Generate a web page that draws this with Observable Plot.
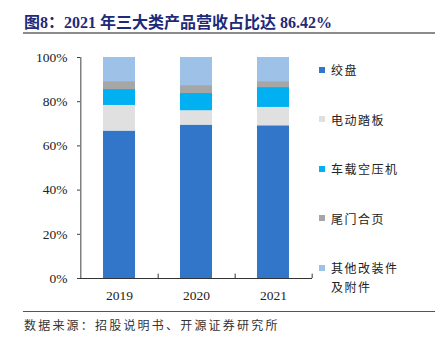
<!DOCTYPE html>
<html>
<head>
<meta charset="utf-8">
<script src="https://cdn.jsdelivr.net/npm/d3@7"></script>
<script src="https://cdn.jsdelivr.net/npm/@observablehq/plot@0.6"></script>
<style>
  html, body { margin: 0; padding: 0; background: #fff; }
  #wrap { position: relative; width: 435px; height: 339px; overflow: hidden; background: #fff; }
  #title { position: absolute; left: 24px; top: 11px; font-size: 16px; font-weight: bold; color: #1e2a78;
    font-family: "Liberation Serif", "Noto Sans CJK SC", serif; white-space: nowrap; line-height: 20px; }
  #title .cjk { font-family: "Noto Sans CJK SC", sans-serif; }
  #tline { position: absolute; left: 23px; right: 0; top: 32px; height: 2px; background: #8c8c8c; }
  #chart { position: absolute; left: 0; top: 40px; }
  #legend { position: absolute; left: 319px; top: 60px; display: flex; flex-direction: column; gap: 30.5px;
    font-family: "Noto Sans CJK SC", sans-serif; font-size: 12px; letter-spacing: 1.5px; color: #222; }
  .item { display: flex; align-items: flex-start; line-height: 19px; }
  .sw { width: 6px; height: 6px; margin-top: 6.5px; margin-right: 6px; flex: none; }
  .lab { width: 70px; }
  #bline { position: absolute; left: 23px; right: 0; top: 311px; height: 1px; background: #555; }
  #source { position: absolute; left: 24px; top: 316px; font-family: "Noto Sans CJK SC", sans-serif; font-size: 12px;
    letter-spacing: 2.2px; color: #333; line-height: 18px; white-space: nowrap; }
</style>
</head>
<body>
<div id="wrap">
  <div id="title"><span class="cjk">图</span>8<span class="cjk">：</span>2021 <span class="cjk">年三大类产品营收占比达</span> 86.42%</div>
  <div id="tline"></div>
  <div id="chart"></div>
  <div id="legend"></div>
  <div id="bline"></div>
  <div id="source">数据来源：招股说明书、开源证券研究所</div>
</div>
<script>
const years = ["2019", "2020", "2021"];
const categories = ["绞盘", "电动踏板", "车载空压机", "尾门合页", "其他改装件及附件"];
const winch = [66.7, 69.4, 69.1];
const sideStep = [11.6, 6.5, 8.3];
const compressor = [7.2, 7.8, 9.0];
const tailgate = [3.6, 3.6, 2.7];
const others = [10.9, 12.7, 10.9];
const colors = ["#3176c8", "#e0e0e0", "#00b0f0", "#a6a6a6", "#9dc1e7"];
const yTicks = [0, 20, 40, 60, 80, 100];

const series = [winch, sideStep, compressor, tailgate, others];
const rows = [];
categories.forEach((c, i) => years.forEach((y, j) => rows.push({year: y, cat: c, value: series[i][j]})));

const W = 435, H = 268, ml = 80, mr = 123, mt = 17, mb = 30;
const step = (W - ml - mr) / years.length;

const plot = Plot.plot({
  width: W, height: H,
  marginLeft: ml, marginRight: mr, marginTop: mt, marginBottom: mb,
  style: {fontFamily: "Liberation Serif, Times New Roman, serif", fontSize: "13.5px", color: "#222", background: "transparent", overflow: "visible"},
  x: {domain: years, paddingInner: 0.59, paddingOuter: 0.295, label: null},
  y: {domain: [0, 100], label: null},
  color: {domain: categories, range: colors},
  marks: [
    Plot.barY(rows, {x: "year", y: "value", fill: "cat", order: categories}),
    Plot.axisY({ticks: yTicks, tickFormat: d => d + "%", tickSize: 3, tickPadding: 10, label: null, stroke: "#404040"}),
    Plot.axisX({tickSize: 0, tickPadding: 12, label: null}),
    Plot.ruleY([0], {stroke: "#333", strokeWidth: 1.2}),
    Plot.ruleX([years[0]], {dx: -step / 2, y1: 0, y2: 100, stroke: "#404040"}),
    Plot.ruleX(years, {dx: step / 2, y1: 0, y2: 2, stroke: "#333"})
  ]
});
document.getElementById("chart").appendChild(plot);

const legend = document.getElementById("legend");
categories.forEach((c, i) => {
  const it = document.createElement("div");
  it.className = "item";
  const sw = document.createElement("span");
  sw.className = "sw";
  sw.style.background = colors[i];
  const lab = document.createElement("span");
  lab.className = "lab";
  lab.textContent = c;
  it.appendChild(sw); it.appendChild(lab);
  legend.appendChild(it);
});
</script>
</body>
</html>
